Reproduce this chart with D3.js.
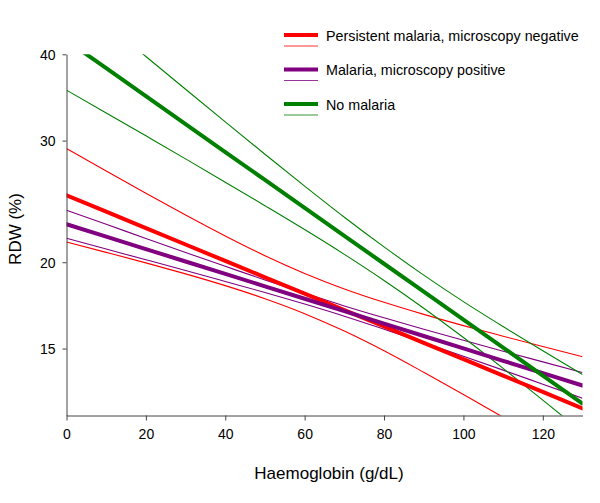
<!DOCTYPE html>
<html>
<head>
<meta charset="utf-8">
<script src="https://cdn.jsdelivr.net/npm/d3@7"></script>
<style>
  html, body { margin: 0; padding: 0; background: #fff; }
  svg { display: block; font-family: "Liberation Sans", Arial, Helvetica, sans-serif; }
</style>
</head>
<body>
<svg id="chart" width="600" height="503"></svg>
<script>
// Haemoglobin (x) sample positions
const haemoglobin = [0, 10, 20, 30, 40, 50, 60, 70, 80, 90, 100, 110, 120, 130];

// Persistent malaria, microscopy negative (red)
const redFit   = [25.00, 23.67, 22.41, 21.22, 20.09, 19.02, 18.01, 17.05, 16.15, 15.29, 14.48, 13.71, 12.98, 12.29];
const redUpper = [29.22, 27.11, 25.17, 23.41, 21.83, 20.44, 19.27, 18.30, 17.50, 16.81, 16.19, 15.63, 15.10, 14.60];
const redLower = [21.39, 20.67, 19.96, 19.24, 18.50, 17.71, 16.85, 15.90, 14.89, 13.86, 12.87, 11.93, 11.05, 10.25];

// Malaria, microscopy positive (purple)
const purpleFit   = [22.70, 21.78, 20.90, 20.05, 19.24, 18.46, 17.71, 16.99, 16.30, 15.64, 15.01, 14.40, 13.82, 13.26];
const purpleUpper = [23.79, 22.70, 21.65, 20.66, 19.73, 18.85, 18.04, 17.29, 16.62, 16.00, 15.42, 14.87, 14.35, 13.85];
const purpleLower = [21.66, 20.90, 20.17, 19.46, 18.76, 18.08, 17.40, 16.71, 16.00, 15.30, 14.62, 13.96, 13.32, 12.71];

// No malaria (green)
const greenFit   = [41.90, 38.19, 34.80, 31.70, 28.88, 26.31, 23.97, 21.84, 19.90, 18.13, 16.52, 15.05, 13.71, 12.49];
const greenUpper = [49.48, 44.32, 39.71, 35.60, 31.93, 28.67, 25.78, 23.24, 21.05, 19.16, 17.54, 16.14, 14.89, 13.76];
const greenLower = [35.50, 32.90, 30.48, 28.23, 26.12, 24.15, 22.30, 20.53, 18.82, 17.16, 15.56, 14.04, 12.63, 11.35];

// Tick labels
const xTicks = [0, 20, 40, 60, 80, 100, 120];
const yTicks = [15, 20, 30, 40];

const groups = [
  { name: "Persistent malaria, microscopy negative", color: "#ff0000", fit: redFit, upper: redUpper, lower: redLower },
  { name: "Malaria, microscopy positive", color: "#800080", fit: purpleFit, upper: purpleUpper, lower: purpleLower },
  { name: "No malaria", color: "#008000", fit: greenFit, upper: greenUpper, lower: greenLower }
];

(function () {
  const svg = d3.select("#chart");
  const pLeft = 66.5, pRight = 582.5, pTop = 54.3, pBottom = 415.5;

  const x = d3.scaleLinear().domain([0, 130]).range([pLeft, pRight]);
  const y = d3.scaleLog().domain([12, 40]).range([pBottom, pTop]);

  svg.append("defs").append("clipPath").attr("id", "plotclip")
    .append("rect")
    .attr("x", pLeft).attr("y", pTop)
    .attr("width", pRight - pLeft).attr("height", pBottom - pTop);

  const line = d3.line().x(d => x(d[0])).y(d => y(d[1]));
  const curve = d3.line().x(d => x(d[0])).y(d => y(d[1])).curve(d3.curveMonotoneX);
  const pts = arr => haemoglobin.map((h, i) => [h, arr[i]]);

  const plot = svg.append("g").attr("clip-path", "url(#plotclip)");

  // thin confidence lines first
  groups.forEach(g => {
    [g.upper, g.lower].forEach(arr => {
      plot.append("path")
        .attr("d", curve(pts(arr)))
        .attr("fill", "none")
        .attr("stroke", g.color)
        .attr("stroke-width", 1.1);
    });
  });
  // thick fitted lines
  groups.forEach(g => {
    plot.append("path")
      .attr("d", line(pts(g.fit)))
      .attr("fill", "none")
      .attr("stroke", g.color)
      .attr("stroke-width", 4)
      .attr("stroke-linecap", "round");
  });

  // axes
  const axisColor = "#444";
  const xAxis = svg.append("g")
    .attr("transform", `translate(0,${pBottom})`)
    .call(d3.axisBottom(x).tickValues(xTicks).tickSize(5).tickSizeOuter(0).tickPadding(8.5));
  const yAxis = svg.append("g")
    .attr("transform", `translate(${pLeft},0)`)
    .call(d3.axisLeft(y).tickValues(yTicks).tickFormat(d3.format("d")).tickSize(4).tickSizeOuter(0).tickPadding(7));

  [xAxis, yAxis].forEach(a => {
    a.select(".domain").attr("stroke", axisColor);
    a.selectAll(".tick line").attr("stroke", axisColor);
    a.selectAll(".tick text")
      .attr("fill", "#000")
      .style("font-size", "14px")
      .style("font-family", "'Liberation Sans', Arial, sans-serif");
  });
  yAxis.selectAll(".tick text").attr("dy", "0.34em");

  // axis titles
  svg.append("text")
    .attr("x", 329)
    .attr("y", 479)
    .attr("text-anchor", "middle")
    .style("font-size", "17px")
    .attr("fill", "#000")
    .text("Haemoglobin (g/dL)");

  svg.append("text")
    .attr("transform", "translate(20.7,229) rotate(-90)")
    .attr("text-anchor", "middle")
    .style("font-size", "17px")
    .attr("fill", "#000")
    .text("RDW (%)");

  // legend
  const legend = svg.append("g");
  const legendRows = [35, 69.5, 104];
  groups.forEach((g, i) => {
    const yy = legendRows[i];
    legend.append("line")
      .attr("x1", 284).attr("x2", 318)
      .attr("y1", yy).attr("y2", yy)
      .attr("stroke", g.color).attr("stroke-width", 4);
    legend.append("line")
      .attr("x1", 284).attr("x2", 318)
      .attr("y1", yy + 11).attr("y2", yy + 11)
      .attr("stroke", g.color).attr("stroke-width", 1.1).attr("stroke-opacity", 0.8);
    legend.append("text")
      .attr("x", 326)
      .attr("y", yy + 5.8)
      .style("font-size", "14.3px")
      .attr("fill", "#000")
      .text(g.name);
  });
})();
</script>
</body>
</html>
